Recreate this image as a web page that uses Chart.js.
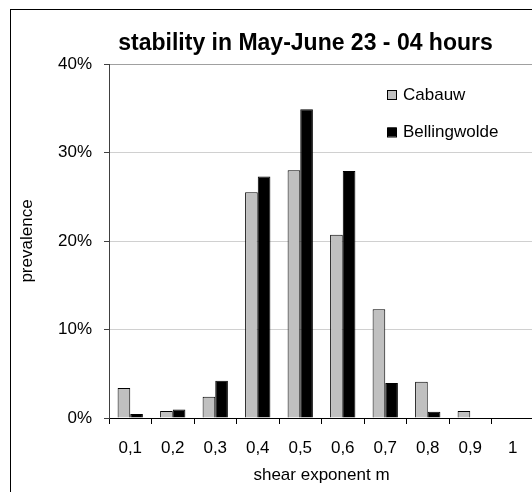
<!DOCTYPE html>
<html>
<head>
<meta charset="utf-8">
<script src="https://cdn.jsdelivr.net/npm/chart.js@4/dist/chart.umd.min.js"></script>
<style>
  html, body { margin: 0; padding: 0; background: #fff; overflow: hidden; }
  #wrap { width: 532px; height: 492px; overflow: hidden; position: relative; }
  canvas { display: block; }
</style>
</head>
<body>
<div id="wrap"><canvas id="c" width="540" height="492"></canvas></div>
<script>
const chartTitle = 'stability in May-June 23 - 04 hours';
const xTitle = 'shear exponent m';
const yTitle = 'prevalence';
const categories = ['0,1', '0,2', '0,3', '0,4', '0,5', '0,6', '0,7', '0,8', '0,9', '1'];
const seriesNames = ['Cabauw', 'Bellingwolde'];
const cabauw = [3.4, 0.8, 2.4, 25.5, 28.0, 20.7, 12.3, 4.1, 0.8, 0];
const bellingwolde = [0.45, 0.95, 4.2, 27.3, 34.9, 27.9, 3.95, 0.7, 0, 0];
const yTicks = [0, 10, 20, 30, 40];

const FONT = "'Liberation Sans', Arial, sans-serif";
const colors = ['#c0c0c0', '#000000'];

const decor = {
  id: 'decor',
  beforeDraw(chart) {
    const ctx = chart.ctx;
    ctx.save();
    ctx.fillStyle = '#fff';
    ctx.fillRect(0, 0, chart.width, chart.height);
    ctx.strokeStyle = '#000';
    ctx.lineWidth = 1;
    ctx.strokeRect(10.5, 9.5, 1000, 1000);
    ctx.restore();
  },
  afterDraw(chart) {
    const ctx = chart.ctx;
    ctx.save();
    // title
    ctx.fillStyle = '#000';
    ctx.font = "bold 23px " + FONT;
    ctx.textAlign = 'center';
    ctx.textBaseline = 'alphabetic';
    ctx.fillText(chartTitle, 305.5, 49.5);
    // legend
    ctx.font = "17px " + FONT;
    ctx.textAlign = 'left';
    chart.data.datasets.forEach((ds, i) => {
      const y = 90 + i * 37.5;
      ctx.fillStyle = ds.backgroundColor;
      ctx.fillRect(387.5, y, 9, 9);
      ctx.strokeStyle = '#000';
      ctx.lineWidth = 1;
      ctx.strokeRect(387.5, y + 0.5, 9, 9);
      ctx.fillStyle = '#000';
      ctx.fillText(ds.label, 403, y + 9.5);
    });
    ctx.restore();
  }
};

new Chart(document.getElementById('c'), {
  type: 'bar',
  data: {
    labels: categories,
    datasets: [
      { label: seriesNames[0], data: cabauw, backgroundColor: colors[0], borderColor: '#000', borderWidth: 1 },
      { label: seriesNames[1], data: bellingwolde, backgroundColor: colors[1], borderColor: '#000', borderWidth: 1 }
    ]
  },
  options: {
    responsive: false,
    animation: false,
    events: [],
    layout: { padding: { top: 64, right: 6, bottom: 0, left: 0 } },
    datasets: { bar: { categoryPercentage: 0.595, barPercentage: 1.0 } },
    plugins: {
      legend: { display: false },
      title: { display: false },
      tooltip: { enabled: false }
    },
    scales: {
      x: {
        offset: true,
        grid: { offset: true, drawOnChartArea: false, drawTicks: true, tickLength: 6, tickColor: '#000' },
        border: { color: '#000', width: 1 },
        ticks: { color: '#000', padding: 14, font: { family: FONT, size: 17 }, maxRotation: 0, autoSkip: false },
        title: { display: true, text: xTitle, color: '#000', font: { family: FONT, size: 17 }, padding: { top: 0, bottom: 6 } },
        afterFit(scale) { scale.height = 74; }
      },
      y: {
        min: 0,
        max: 40,
        afterBuildTicks(scale) { scale.ticks = yTicks.map(v => ({ value: v })); },
        grid: {
          color: (c) => (c.tick && c.tick.value === 40) ? '#a0a0a0' : '#d0d0d0',
          lineWidth: 1,
          tickLength: 5,
          tickColor: '#404040'
        },
        border: { color: '#404040', width: 1 },
        ticks: { color: '#000', padding: 12, font: { family: FONT, size: 17 }, callback: (v) => v + '%' },
        title: { display: true, text: yTitle, color: '#000', font: { family: FONT, size: 17 }, padding: { top: 17, bottom: 0 } },
        afterFit(scale) { scale.width = 109; }
      }
    }
  },
  plugins: [decor]
});
</script>
</body>
</html>
